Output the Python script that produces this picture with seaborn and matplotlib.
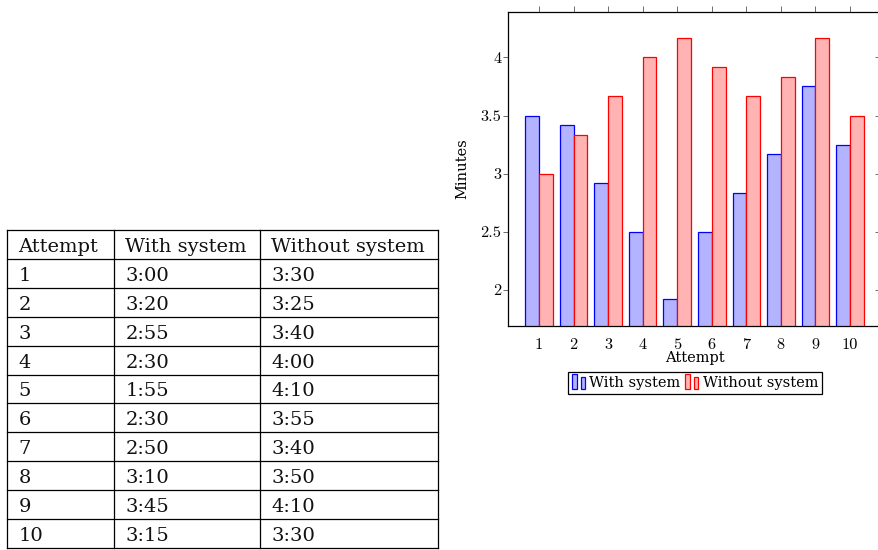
import matplotlib
matplotlib.use("Agg")
import matplotlib.pyplot as plt
from matplotlib.patches import Rectangle, Patch
from matplotlib.legend_handler import HandlerBase
import seaborn as sns
import pandas as pd

# ---------------- data ----------------
attempts = ["1", "2", "3", "4", "5", "6", "7", "8", "9", "10"]
with_system = [3.50, 3.42, 2.92, 2.50, 1.92, 2.50, 2.83, 3.17, 3.75, 3.25]
without_system = [3.00, 3.33, 3.67, 4.00, 4.17, 3.92, 3.67, 3.83, 4.17, 3.50]
series_names = ["With system", "Without system"]

y_ticks = [2, 2.5, 3, 3.5, 4]
y_tick_labels = ["2", "2.5", "3", "3.5", "4"]

table_header = ["Attempt", "With system", "Without system"]
table_attempt = ["1", "2", "3", "4", "5", "6", "7", "8", "9", "10"]
table_with = ["3:00", "3:20", "2:55", "2:30", "1:55", "2:30", "2:50", "3:10", "3:45", "3:15"]
table_without = ["3:30", "3:25", "3:40", "4:00", "4:10", "3:55", "3:40", "3:50", "4:10", "3:30"]

# ---------------- style ----------------
fill_colors = ["#b3b3ff", "#ffb3b3"]
edge_colors = ["#0000ff", "#ff0000"]
TEXT_FONT = ["DejaVu Serif"]
TICK_FONT = "cmr10"

W, H = 879, 550
fig = plt.figure(figsize=(W / 100, H / 100), dpi=100)

# ---------------- table (left) ----------------
tax = fig.add_axes([0, 0, 1, 1])
tax.set_xlim(0, W)
tax.set_ylim(H, 0)
tax.axis("off")

col_lines = [7, 114, 260, 438]
top = 230
row_h = 28.9
rows = [table_header] + [list(r) for r in zip(table_attempt, table_with, table_without)]
n_rows = len(rows)
for i in range(n_rows + 1):
    y = top + i * row_h
    tax.plot([col_lines[0], col_lines[-1]], [y, y], color="black", lw=0.9, solid_capstyle="projecting")
for x in col_lines:
    tax.plot([x, x], [top, top + n_rows * row_h], color="black", lw=0.9)
for i, row in enumerate(rows):
    base = top + (i + 1) * row_h - 7
    for j, txt in enumerate(row):
        tax.text(col_lines[j] + 11.5, base, txt, fontsize=14, family=TEXT_FONT,
                 ha="left", va="baseline", color="#111111")

# ---------------- bar chart (right) ----------------
ax_left, ax_right, ax_top, ax_bottom = 508, 881, 12, 326
ax = fig.add_axes([ax_left / W, (H - ax_bottom) / H,
                   (ax_right - ax_left) / W, (ax_bottom - ax_top) / H])

df = pd.DataFrame({
    "Attempt": attempts * 2,
    "Series": [series_names[0]] * len(attempts) + [series_names[1]] * len(attempts),
    "Minutes": with_system + without_system,
})
sns.barplot(data=df, x="Attempt", y="Minutes", hue="Series", order=attempts,
            hue_order=series_names, palette=fill_colors, saturation=1,
            width=0.8, errorbar=None, legend=False, ax=ax)
for cont, ec in zip(ax.containers, edge_colors):
    for p in cont:
        p.set_edgecolor(ec)
        p.set_linewidth(0.9)

ax.set_xlim(-0.896, 9.896)
ax.set_ylim(1.69, 4.39)
ax.set_yticks(y_ticks)
ax.set_yticklabels(y_tick_labels)

for s in ax.spines.values():
    s.set_color("black")
    s.set_linewidth(0.9)

ax.tick_params(axis="x", bottom=False, top=True, direction="out", length=4.3,
               width=0.6, color="#555555", pad=4.2, labelsize=11.8,
               labelfontfamily=TICK_FONT)
ax.tick_params(axis="y", left=True, right=False, direction="out", length=3.6,
               width=0.6, color="#555555", pad=1.2, labelsize=11.8,
               labelfontfamily=TICK_FONT)
sec = ax.secondary_yaxis("right")
sec.set_yticks(y_ticks)
sec.tick_params(direction="in", length=4.3, width=0.6, color="#555555", labelright=False)
sec.spines["right"].set_visible(False)

ax.set_xlabel("Attempt", fontsize=10.5, family=TEXT_FONT)
ax.set_ylabel("Minutes", fontsize=10.5, family=TEXT_FONT)
ax.xaxis.set_label_coords(0.5, -0.080)
ax.yaxis.set_label_coords(-0.104, 0.5)


class TwoBarHandler(HandlerBase):
    def create_artists(self, legend, orig_handle, xdescent, ydescent,
                       width, height, fontsize, trans):
        fc = orig_handle.get_facecolor()
        ec = orig_handle.get_edgecolor()
        bw = width * 0.34
        x0 = -xdescent
        y0 = -ydescent - 0.2 * height
        r1 = Rectangle((x0, y0), bw, height * 1.45, facecolor=fc, edgecolor=ec,
                       lw=0.9, transform=trans)
        r2 = Rectangle((x0 + width * 0.62, y0), bw, height * 1.15, facecolor=fc,
                       edgecolor=ec, lw=0.9, transform=trans)
        return [r1, r2]


handles = [Patch(facecolor=fc, edgecolor=ec) for fc, ec in zip(fill_colors, edge_colors)]
leg = fig.legend(handles, series_names, loc="center",
                 bbox_to_anchor=(695 / W, (H - 383) / H), bbox_transform=fig.transFigure,
                 ncol=2, frameon=True, fancybox=False, edgecolor="black", framealpha=1,
                 handlelength=0.95, handleheight=0.7, handletextpad=0.25,
                 columnspacing=0.3, borderpad=0.3,
                 prop={"family": TEXT_FONT, "size": 10.5},
                 handler_map={Patch: TwoBarHandler()})
leg.get_frame().set_linewidth(0.9)

fig.savefig("out.png", dpi=100)
